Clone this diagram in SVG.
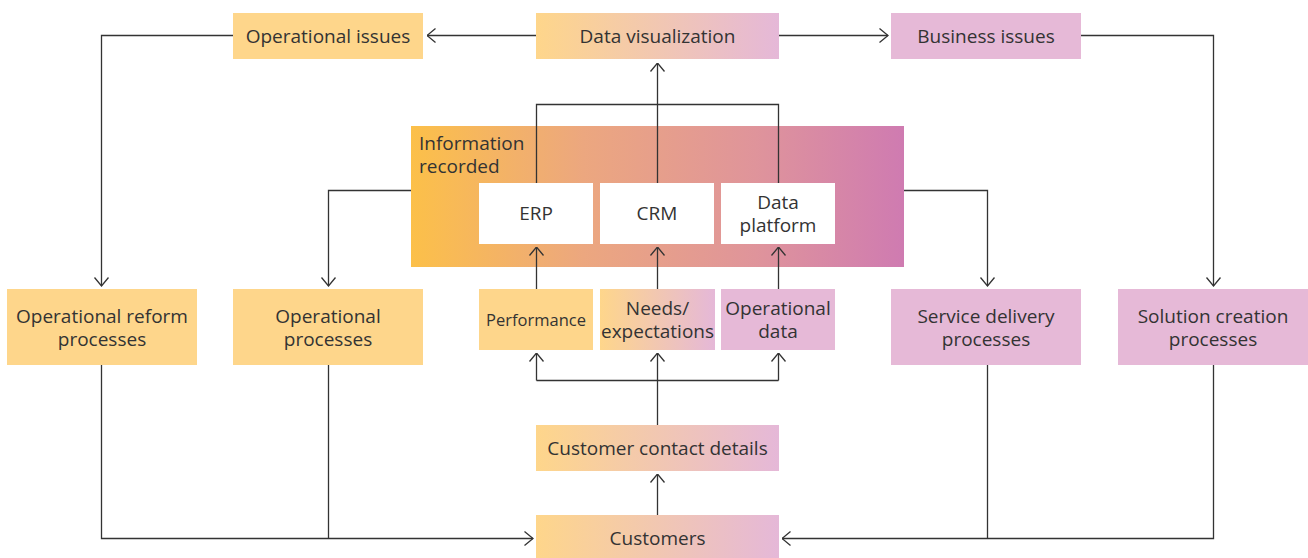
<svg xmlns="http://www.w3.org/2000/svg" width="1308" height="558" viewBox="0 0 1308 558">
<style>
.y{fill:#FED68B}
.p{fill:#E6B9D7}
.g{fill:url(#gr)}
.w{fill:#FFFFFF}
text{font-family:"Open Sans","Noto Sans","Liberation Sans",sans-serif;font-size:19px;fill:#333333;text-anchor:middle}
.c path{fill:none;stroke:#333333;stroke-width:1.3}
</style>
<defs>
<linearGradient id="gr" x1="0" y1="0" x2="1" y2="0">
<stop offset="0" stop-color="#FED68B"/>
<stop offset="1" stop-color="#E5B8D8"/>
</linearGradient>
<linearGradient id="big" x1="0" y1="0" x2="1" y2="0">
<stop offset="0" stop-color="#FCC049"/>
<stop offset="0.35" stop-color="#ECA77F"/>
<stop offset="0.7" stop-color="#DF949B"/>
<stop offset="1" stop-color="#CF7BB1"/>
</linearGradient>
<marker id="a" viewBox="0 0 10 16" refX="9.5" refY="8" markerWidth="10" markerHeight="16" markerUnits="userSpaceOnUse" orient="auto">
<path d="M1,1 L9.5,8 L1,15" fill="none" stroke="#333333" stroke-width="1.3"/>
</marker>
</defs>

<g id="n-info">
<rect x="411" y="126" width="493" height="141" fill="url(#big)"/>
<text x="419" y="150" style="text-anchor:start">Information<tspan x="419" dy="23">recorded</tspan></text>
</g>

<g class="c" id="connectors">
<path d="M536,35.5 H427" marker-end="url(#a)"/>
<path d="M779,35.5 H888" marker-end="url(#a)"/>
<path d="M233,35.5 H101.5 V286" marker-end="url(#a)"/>
<path d="M1081,35.5 H1213.5 V286" marker-end="url(#a)"/>
<path d="M657.5,183 V63" marker-end="url(#a)"/>
<path d="M536.5,183 V104.5 H778.5 V183"/>
<path d="M411,190.5 H328.5 V286" marker-end="url(#a)"/>
<path d="M904,190.5 H987.5 V286" marker-end="url(#a)"/>
<path d="M536.5,289 V247" marker-end="url(#a)"/>
<path d="M657.5,289 V247" marker-end="url(#a)"/>
<path d="M778.5,289 V247" marker-end="url(#a)"/>
<path d="M657.5,425 V380.5"/>
<path d="M536.5,380.5 H778.5"/>
<path d="M536.5,380.5 V353" marker-end="url(#a)"/>
<path d="M657.5,380.5 V353" marker-end="url(#a)"/>
<path d="M778.5,380.5 V353" marker-end="url(#a)"/>
<path d="M657.5,515 V474" marker-end="url(#a)"/>
<path d="M101.5,365 V538.5 H533" marker-end="url(#a)"/>
<path d="M328.5,365 V538.5"/>
<path d="M1213.5,365 V538.5 H782" marker-end="url(#a)"/>
<path d="M987.5,365 V538.5"/>
</g>

<g id="n-opissues"><rect class="y" x="233" y="13" width="190" height="46"/><text x="328" y="42.5">Operational issues</text></g>
<g id="n-dataviz"><rect class="g" x="536" y="13" width="243" height="46"/><text x="657.5" y="42.5">Data visualization</text></g>
<g id="n-bizissues"><rect class="p" x="891" y="13" width="190" height="46"/><text x="986" y="42.5">Business issues</text></g>

<g id="n-erp"><rect class="w" x="479" y="183" width="114" height="61"/><text x="536" y="220">ERP</text></g>
<g id="n-crm"><rect class="w" x="600" y="183" width="114" height="61"/><text x="657" y="220">CRM</text></g>
<g id="n-dp"><rect class="w" x="721" y="183" width="114" height="61"/><text x="778" y="209">Data<tspan x="778" dy="23">platform</tspan></text></g>

<g id="n-opreform"><rect class="y" x="7" y="289" width="190" height="76"/><text x="102" y="322.5">Operational reform<tspan x="102" dy="23">processes</tspan></text></g>
<g id="n-opproc"><rect class="y" x="233" y="289" width="190" height="76"/><text x="328" y="322.5">Operational<tspan x="328" dy="23">processes</tspan></text></g>
<g id="n-perf"><rect class="y" x="479" y="289" width="114" height="61"/><text x="536" y="325.5" style="font-size:16.5px">Performance</text></g>
<g id="n-needs"><rect class="g" x="600" y="289" width="115" height="61"/><text x="657.5" y="314.5">Needs/<tspan x="657.5" dy="23">expectations</tspan></text></g>
<g id="n-opdata"><rect class="p" x="721" y="289" width="114" height="61"/><text x="778" y="314.5">Operational<tspan x="778" dy="23">data</tspan></text></g>
<g id="n-service"><rect class="p" x="891" y="289" width="190" height="76"/><text x="986" y="322.5">Service delivery<tspan x="986" dy="23">processes</tspan></text></g>
<g id="n-solution"><rect class="p" x="1118" y="289" width="190" height="76"/><text x="1213" y="322.5">Solution creation<tspan x="1213" dy="23">processes</tspan></text></g>

<g id="n-contact"><rect class="g" x="536" y="425" width="243" height="46"/><text x="657.5" y="454.5">Customer contact details</text></g>
<g id="n-customers"><rect class="g" x="536" y="515" width="243" height="43"/><text x="657.5" y="545">Customers</text></g>
</svg>
